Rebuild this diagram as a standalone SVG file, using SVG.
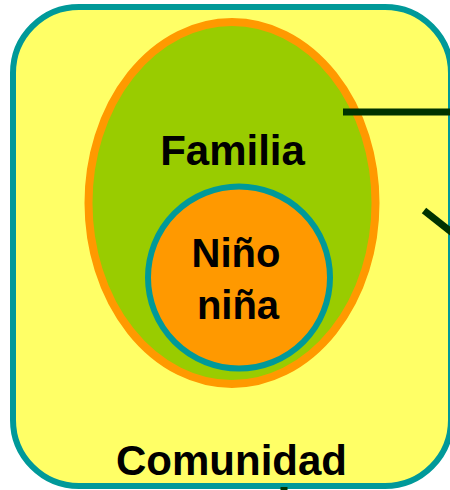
<svg xmlns="http://www.w3.org/2000/svg" width="450" height="490" viewBox="0 0 450 490">
  <style>
    .lbl { font-family: "Liberation Sans", Arial, sans-serif; font-weight: bold; font-size: 40px; fill: #000; text-anchor: middle; }
    .big { font-size: 42px; }
    .conn { stroke: #003300; stroke-width: 7; fill: none; }
  </style>
  <rect width="450" height="490" fill="#ffffff"/>
  <g id="comunidad">
    <rect x="13" y="7" width="438" height="479" rx="66" ry="66" fill="#FFFF66" stroke="#009999" stroke-width="6"/>
    <text class="lbl big" x="231.5" y="475">Comunidad</text>
  </g>
  <g id="familia">
    <ellipse cx="232" cy="203" rx="143.5" ry="181" fill="#99CC00" stroke="#FF9900" stroke-width="8"/>
    <text class="lbl big" x="232.5" y="165">Familia</text>
  </g>
  <g id="nino">
    <circle cx="239" cy="277.5" r="91" fill="#FF9900" stroke="#009999" stroke-width="6"/>
    <text class="lbl" x="236" y="267">Niño</text>
    <text class="lbl" x="238" y="319">niña</text>
  </g>
  <g id="connectors">
    <line class="conn" x1="343" y1="112" x2="460" y2="112"/>
    <line class="conn" x1="424" y1="210.5" x2="462" y2="240.5"/>
    <line class="conn" x1="284" y1="487" x2="284" y2="495"/>
  </g>
</svg>
